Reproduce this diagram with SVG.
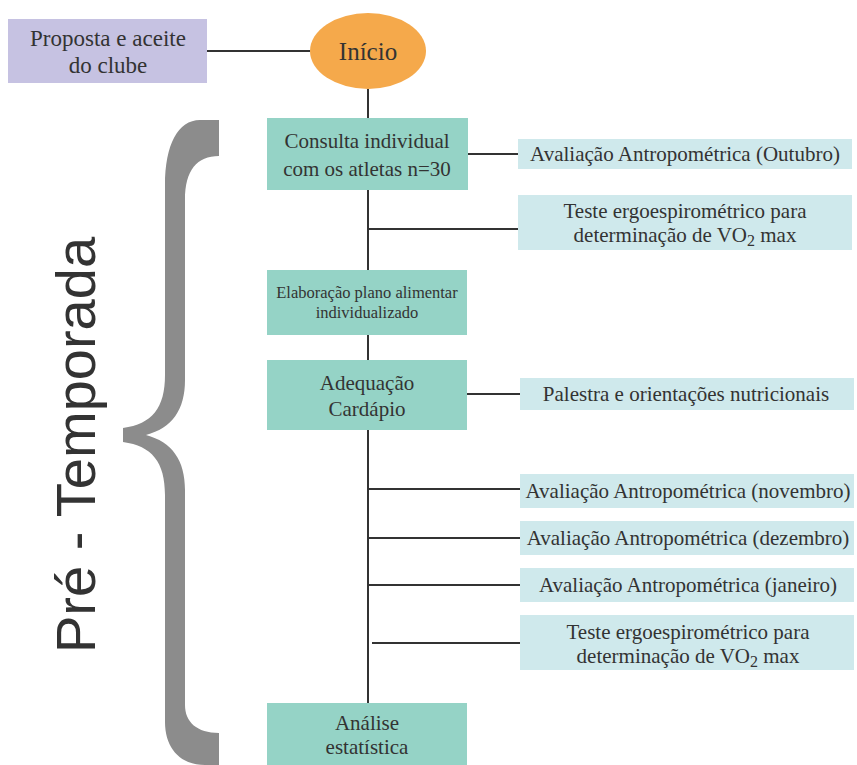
<svg xmlns="http://www.w3.org/2000/svg" width="857" height="765" viewBox="0 0 857 765">
<style>
.lbl text{font-family:'Liberation Serif','DejaVu Serif',serif;fill:#333;text-anchor:middle}
.main{fill:#95d3c6}
.side{fill:#cfe9ec}
.t{font-size:21px}
.c line{stroke:#333;stroke-width:2}
</style>
<rect width="857" height="765" fill="#fff"/>
<g id="brace">
<path d="M200 120 L219 120 L219 156 C197 156 185 170 185 200 L185 380 C185 410 172 428 146 435 C172 442 185 460 185 490 L185 705 C185 722 197 733 219 733 L219 765 L205 765 C180 765 165 748 165 722 L165 495 C165 462 152 446 123 442 L123 428 C152 424 165 408 165 375 L165 185 C165 145 178 120 200 120 Z" fill="#8c8c8c"/>
<text transform="translate(95,445) rotate(-90)" font-family="Liberation Sans, Arial, sans-serif" font-size="56" fill="#333" text-anchor="middle">Pré - Temporada</text>
</g>
<g class="c" id="connectors">
<line x1="207" y1="51" x2="310" y2="51"/>
<line x1="368" y1="89" x2="368" y2="703"/>
<line x1="468" y1="154" x2="520" y2="154"/>
<line x1="368" y1="229" x2="520" y2="229"/>
<line x1="467" y1="394" x2="520" y2="394"/>
<line x1="368" y1="489" x2="520" y2="489"/>
<line x1="368" y1="538" x2="520" y2="538"/>
<line x1="368" y1="585" x2="520" y2="585"/>
<line x1="372" y1="643" x2="520" y2="643"/>
</g>
<g class="lbl">
<g id="proposta">
<rect x="8" y="19" width="199" height="64" fill="#c6c2e2"/>
<text x="108" y="46" font-size="23">Proposta e aceite</text>
<text x="108" y="73" font-size="23">do clube</text>
</g>
<g id="inicio">
<ellipse cx="368" cy="51" rx="58" ry="38" fill="#f5a94b"/>
<text x="368" y="60" font-size="25">Início</text>
</g>
<g id="consulta">
<rect class="main" x="267" y="118" width="201" height="72"/>
<text class="t" x="367" y="148">Consulta individual</text>
<text class="t" x="367" y="176">com os atletas n=30</text>
</g>
<g id="aval-out">
<rect class="side" x="518" y="139" width="334" height="30"/>
<text class="t" x="685" y="161">Avaliação Antropométrica (Outubro)</text>
</g>
<g id="teste1">
<rect class="side" x="518" y="195" width="334" height="55"/>
<text class="t" x="685" y="218">Teste ergoespirométrico para</text>
<text class="t" x="685" y="242">determinação de VO<tspan dy="4" font-size="16">2</tspan><tspan dy="-4"> max</tspan></text>
</g>
<g id="elaboracao">
<rect class="main" x="267" y="270" width="200" height="65"/>
<text x="367" y="298" font-size="16.5">Elaboração plano alimentar</text>
<text x="367" y="318" font-size="16.5">individualizado</text>
</g>
<g id="adequacao">
<rect class="main" x="267" y="360" width="200" height="70"/>
<text class="t" x="367" y="390">Adequação</text>
<text class="t" x="367" y="416">Cardápio</text>
</g>
<g id="palestra">
<rect class="side" x="520" y="378" width="334" height="32"/>
<text class="t" x="686" y="401">Palestra e orientações nutricionais</text>
</g>
<g id="aval-nov">
<rect class="side" x="520" y="474" width="334" height="34"/>
<text class="t" x="688" y="498">Avaliação Antropométrica (novembro)</text>
</g>
<g id="aval-dez">
<rect class="side" x="520" y="521" width="334" height="34"/>
<text class="t" x="688" y="545">Avaliação Antropométrica (dezembro)</text>
</g>
<g id="aval-jan">
<rect class="side" x="520" y="568" width="334" height="34"/>
<text class="t" x="688" y="592">Avaliação Antropométrica (janeiro)</text>
</g>
<g id="teste2">
<rect class="side" x="520" y="615" width="334" height="55"/>
<text class="t" x="688" y="639">Teste ergoespirométrico para</text>
<text class="t" x="688" y="663">determinação de VO<tspan dy="4" font-size="16">2</tspan><tspan dy="-4"> max</tspan></text>
</g>
<g id="analise">
<rect class="main" x="267" y="703" width="200" height="62"/>
<text class="t" x="367" y="730">Análise</text>
<text class="t" x="367" y="754">estatística</text>
</g>
</g>
</svg>
